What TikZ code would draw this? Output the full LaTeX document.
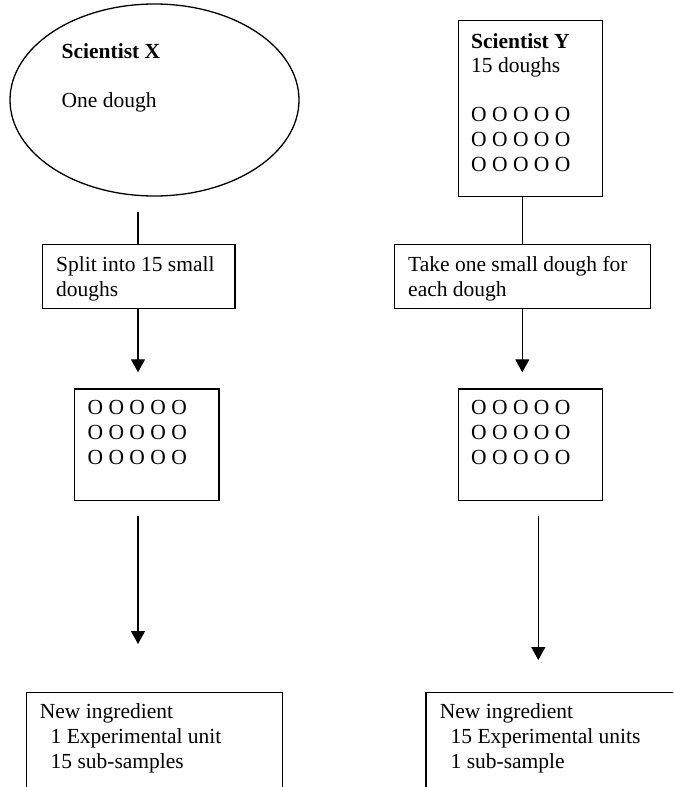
\documentclass[tikz,border=0pt]{standalone}
\usepackage{fontspec}
\setmainfont{Liberation Serif}
\usetikzlibrary{shapes.geometric,arrows.meta}

\tikzset{
  frame/.style={draw, rectangle, inner sep=0pt, outer sep=0pt, line width=1.3pt, anchor=north west},
  oval/.style={draw, ellipse, inner sep=0pt, outer sep=0pt, line width=1.3pt},
  txt/.style={inner sep=0pt, anchor=base west, font=\fontsize{21.5}{25}\selectfont},
  link/.style={line width=1.2pt},
  flow/.style={line width=1.2pt, -{Triangle[width=14pt,length=13pt]}}
}

\begin{document}
\begin{tikzpicture}[x=1pt,y=-1pt]
  \useasboundingbox (0,0) rectangle (673,787);
  \clip (0,0) rectangle (673,787);

  % ---- left column: Scientist X ----
  \node[oval, minimum width=289pt, minimum height=192pt] (scx) at (154.5,100) {};
  \node[txt] (scxa) at (61.5,58) {\textbf{Scientist X}};
  \node[txt] (scxb) at (61.5,107) {One dough};

  \node[frame, minimum width=192.7pt, minimum height=64.4pt] (split) at (42.3,244.3) {};
  \node[txt] (splita) at (56,271) {Split into 15 small};
  \node[txt] (splitb) at (56,296) {doughs};

  \node[frame, minimum width=144.3pt, minimum height=111.7pt] (smallx) at (74.7,389) {};
  \node[txt] (ox1) at (87.5,414) {O O O O O};
  \node[txt] (ox2) at (87.5,439) {O O O O O};
  \node[txt] (ox3) at (87.5,464) {O O O O O};

  \node[frame, minimum width=256pt, minimum height=150pt] (resx) at (26.7,692.7) {};
  \node[txt] (resxa) at (39.7,718) {New ingredient};
  \node[txt] (resxb) at (39.7,743) {\hspace*{10.75pt}1 Experimental unit};
  \node[txt] (resxc) at (39.7,768) {\hspace*{10.75pt}15 sub-samples};

  \coordinate (xa) at (138,212);
  \coordinate (xb) at (138,244.3);
  \coordinate (xc) at (138,308.7);
  \coordinate (xd) at (138,372.3);
  \coordinate (xe) at (138,516);
  \coordinate (xf) at (138,644);
  \draw[link] (xa) -- (xb);
  \draw[flow] (xc) -- (xd);
  \draw[flow] (xe) -- (xf);

  % ---- right column: Scientist Y ----
  \node[frame, minimum width=144.4pt, minimum height=176pt] (scy) at (458.3,20.7) {};
  \node[txt] (scya) at (471,48) {\textbf{Scientist Y}};
  \node[txt] (scyb) at (471,72.5) {15 doughs};
  \node[txt] (oy1) at (471,121) {O O O O O};
  \node[txt] (oy2) at (471,146) {O O O O O};
  \node[txt] (oy3) at (471,171) {O O O O O};

  \node[frame, minimum width=256.4pt, minimum height=64.4pt] (take) at (394.3,244.3) {};
  \node[txt] (takea) at (408,271) {Take one small dough for};
  \node[txt] (takeb) at (408,296) {each dough};

  \node[frame, minimum width=144.4pt, minimum height=111.7pt] (smally) at (458.3,389) {};
  \node[txt] (oz1) at (471,414) {O O O O O};
  \node[txt] (oz2) at (471,439) {O O O O O};
  \node[txt] (oz3) at (471,464) {O O O O O};

  \node[frame, minimum width=300pt, minimum height=150pt] (resy) at (426,692.7) {};
  \node[txt] (resya) at (439.7,718) {New ingredient};
  \node[txt] (resyb) at (439.7,743) {\hspace*{10.75pt}15 Experimental units};
  \node[txt] (resyc) at (439.7,768) {\hspace*{10.75pt}1 sub-sample};

  \coordinate (ya) at (522.3,196.7);
  \coordinate (yb) at (522.3,244.3);
  \coordinate (yc) at (522.3,308.7);
  \coordinate (yd) at (522.3,372.3);
  \coordinate (ye) at (538.3,516);
  \coordinate (yf) at (538.3,660);
  \draw[link] (ya) -- (yb);
  \draw[flow] (yc) -- (yd);
  \draw[flow] (ye) -- (yf);
\end{tikzpicture}
\end{document}
